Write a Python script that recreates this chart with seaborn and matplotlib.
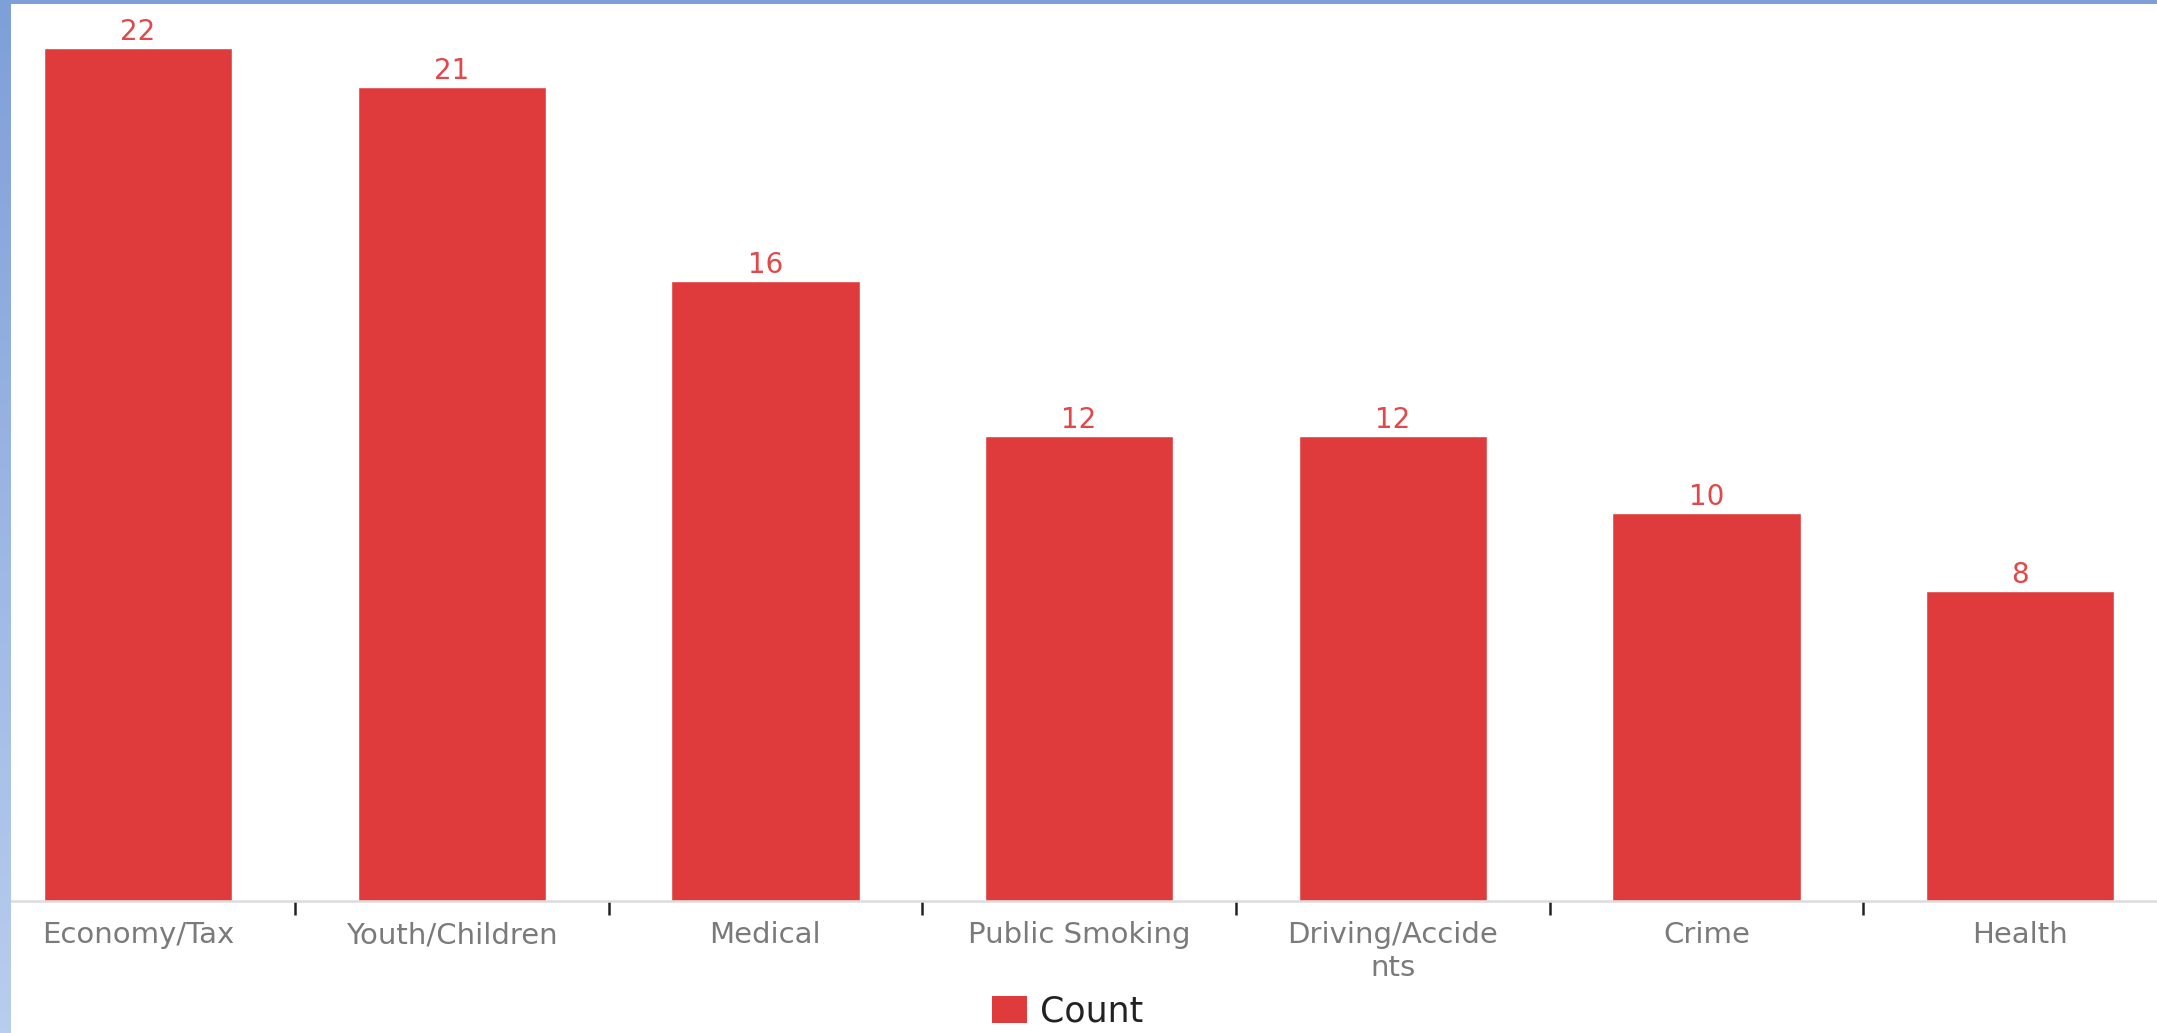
import numpy as np
import matplotlib
matplotlib.use("Agg")
import matplotlib.pyplot as plt
import seaborn as sns
from matplotlib.patches import Patch, Rectangle
from matplotlib.colors import LinearSegmentedColormap

# chart data
categories = ["Economy/Tax", "Youth/Children", "Medical", "Public Smoking",
              "Driving/Accide\nnts", "Crime", "Health"]
counts = [22, 21, 16, 12, 12, 10, 8]
series_name = "Count"

bar_color = "#e03b3c"

sns.set_style("white")
plt.rcParams["font.family"] = ["DejaVu Sans"]

W, H = 2157, 1033
fig = plt.figure(figsize=(W / 100, H / 100), dpi=100)

# main axes, placed to match the reference pixel layout
left_px, base_px, top_px = 10, 901, 4
ax = fig.add_axes([left_px / W, (H - base_px) / H, 1 - left_px / W, (base_px - top_px) / H])

sns.barplot(x=categories, y=counts, color=bar_color, saturation=1, width=0.6, ax=ax)

# value labels above bars
ax.bar_label(ax.containers[0], labels=[str(v) for v in counts], padding=1.5,
             color="#e3474a", fontsize=20)

# axis styling
for s in ["top", "right", "left"]:
    ax.spines[s].set_visible(False)
ax.spines["bottom"].set_color("#dcdcdc")
ax.spines["bottom"].set_linewidth(1.8)
ax.set_yticks([])
ax.set_xlabel("")
ax.set_ylabel("")

# separators between categories (minor ticks), labels on major ticks
ax.set_xticks(np.arange(len(categories) - 1) + 0.5, minor=True)
ax.tick_params(axis="x", which="major", bottom=True, length=0, pad=14.5,
               labelsize=21, labelcolor="#7a7a7a")
ax.tick_params(axis="x", which="minor", bottom=True, direction="out", length=10,
               width=1.8, color="#222222")

ax.set_xlim(-0.408, 6.436)
ax.set_ylim(0, 23.14)

# legend at the bottom
handle = Patch(facecolor=bar_color, edgecolor="none", label=series_name)
fig.legend(handles=[handle], loc="center", bbox_to_anchor=(0.495, 0.021), frameon=False,
           fontsize=25, handlelength=1.0, handleheight=0.8, handletextpad=0.4,
           labelcolor="#222222")

# blue frame: top band and left gradient band
fig.patches.append(Rectangle((0, 1 - 4 / H), 1, 4 / H, transform=fig.transFigure,
                             facecolor="#7f9fd8", edgecolor="none", zorder=10))
bax = fig.add_axes([0, 0, 11 / W, 1 - 4 / H])
grad = np.linspace(0, 1, 256).reshape(-1, 1)
cmap = LinearSegmentedColormap.from_list("edge", ["#7f9fd8", "#b9cdee"])
bax.imshow(grad, aspect="auto", cmap=cmap)
bax.axis("off")

fig.savefig("out.png", dpi=100)
